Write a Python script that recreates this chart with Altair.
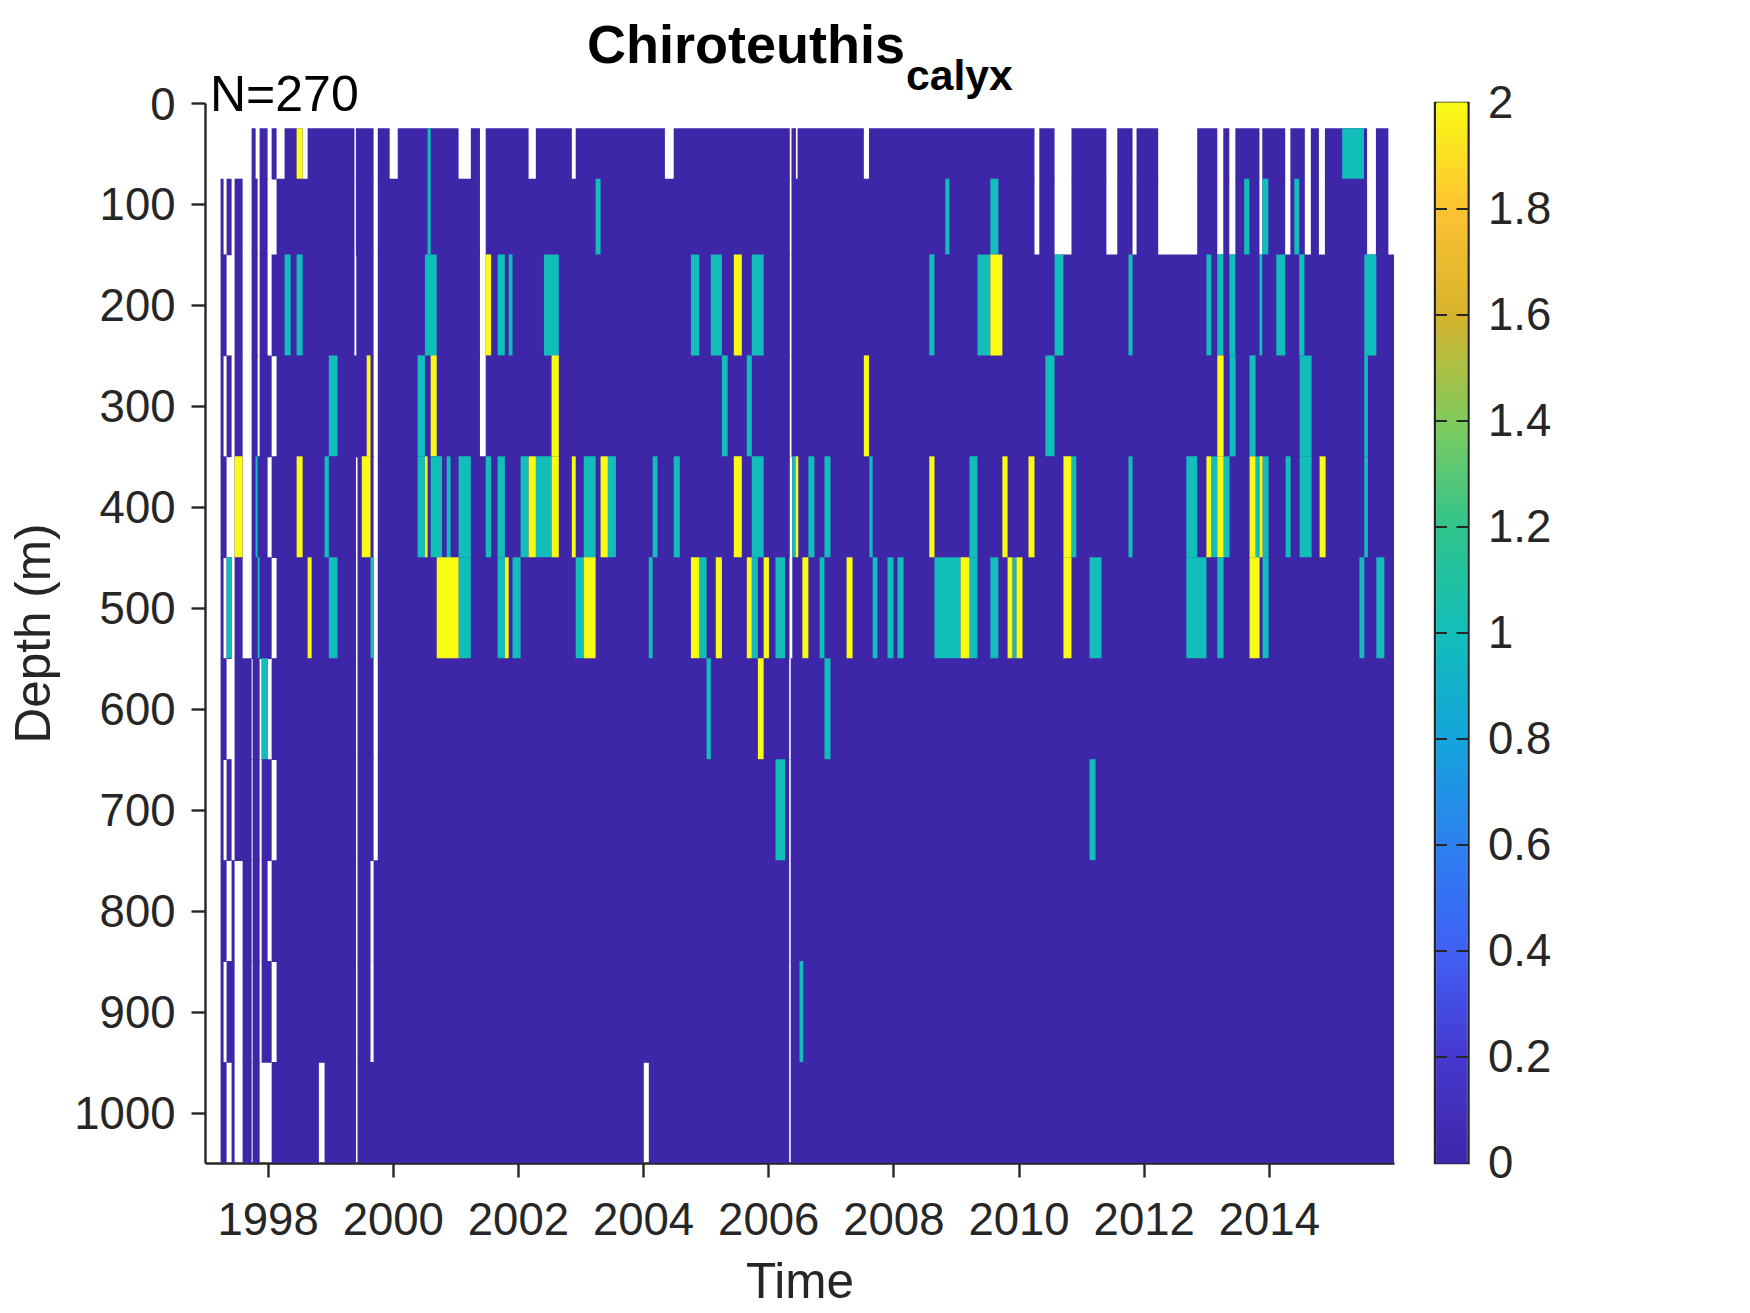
import altair as alt
import numpy as np
import pandas as pd

FONT = "Liberation Sans"
INK = "#262626"

ROW_EDGES = [25, 75, 150, 250, 350, 450, 550, 650, 750, 850, 950, 1050]
YEAR_TICKS = [1998, 2000, 2002, 2004, 2006, 2008, 2010, 2012, 2014]
DEPTH_TICKS = [0, 100, 200, 300, 400, 500, 600, 700, 800, 900, 1000]
CBAR_TICKS = [0, 0.2, 0.4, 0.6, 0.8, 1, 1.2, 1.4, 1.6, 1.8, 2]
CBAR_COLORS = ["#3E26A8", "#4638CE", "#4060F6", "#2D80F0", "#14A4DC", "#12BEB9",
               "#30C48C", "#80CB5C", "#D6B32C", "#FDC232", "#F9FB15"]

GAPS = [
    [(1997,1997.745),(1997.809,1997.873),(1998.0,1998.065),(1998.144,1998.272),(1998.56,1998.64),(1999.388,1999.412),(1999.694,1999.761),(1999.951,2000.08),(2001.052,2001.248),(2001.394,2001.486),(2002.171,2002.287),(2002.862,2002.924),(2004.349,2004.49),(2006.345,2006.372),(2006.443,2006.469),(2007.528,2007.611),(2010.255,2010.332),(2010.576,2010.846),(2011.404,2011.578),(2011.822,2011.886),(2012.232,2012.855),(2013.176,2013.272),(2013.368,2013.465),(2013.85,2013.895),(2014.261,2014.344),(2014.575,2014.671),(2014.8,2014.896),(2015.57,2015.711),(2015.91,2016)],
    [(1997,1997.249),(1997.297,1997.345),(1997.425,1997.473),(1997.601,1997.745),(1997.841,1997.873),(1998.0,1998.144),(1999.388,1999.412),(1999.694,1999.761),(2001.394,2001.486),(2006.345,2006.372),(2010.255,2010.332),(2010.576,2010.846),(2011.404,2011.578),(2011.822,2011.886),(2012.232,2012.855),(2013.176,2013.272),(2013.368,2013.465),(2013.85,2013.895),(2014.261,2014.344),(2014.575,2014.671),(2014.8,2014.896),(2015.57,2015.711),(2015.91,2016)],
    [(1997,1997.249),(1997.345,1997.473),(1997.601,1997.745),(1997.841,1997.873),(1998.0,1998.065),(1999.388,1999.418),(1999.694,1999.761),(2001.394,2001.486),(2006.345,2006.372)],
    [(1997,1997.249),(1997.297,1997.345),(1997.425,1997.473),(1997.601,1997.745),(1997.841,1997.873),(1998.065,1998.144),(1999.694,1999.761),(2001.394,2001.486),(2006.345,2006.372)],
    [(1997,1997.249),(1997.345,1997.473),(1997.601,1997.745),(1998.0,1998.065),(1999.413,1999.437),(1999.694,1999.761),(2006.345,2006.385)],
    [(1997,1997.249),(1997.297,1997.345),(1997.425,1997.473),(1997.601,1997.745),(1998.065,1998.144),(1999.413,1999.437),(1999.694,1999.761),(2006.34,2006.385)],
    [(1997,1997.249),(1997.345,1997.473),(1997.745,1997.761),(1997.873,1997.905),(1998.0,1998.065),(1999.413,1999.437),(1999.694,1999.761),(2006.335,2006.36)],
    [(1997,1997.249),(1997.297,1997.345),(1997.425,1997.473),(1997.745,1997.761),(1997.873,1997.905),(1998.065,1998.144),(1999.413,1999.437),(1999.694,1999.761),(2006.335,2006.36)],
    [(1997,1997.249),(1997.345,1997.425),(1997.473,1997.601),(1997.745,1997.761),(1997.873,1997.905),(1998.0,1998.065),(1999.413,1999.437),(1999.645,1999.694),(2006.335,2006.36)],
    [(1997,1997.249),(1997.297,1997.345),(1997.473,1997.601),(1997.745,1997.761),(1997.873,1997.905),(1998.065,1998.144),(1999.413,1999.437),(1999.645,1999.694),(2006.335,2006.36)],
    [(1997,1997.249),(1997.345,1997.425),(1997.473,1997.601),(1997.745,1997.761),(1997.873,1998.065),(1998.82,1998.911),(1999.413,1999.437),(2004.012,2004.092),(2006.335,2006.36)],
]

ONES = [
    [(2000.557,2000.606),(2015.172,2015.519)],
    [(2000.557,2000.606),(2003.242,2003.321),(2008.83,2008.895),(2009.549,2009.678),(2013.606,2013.689),(2013.895,2013.991),(2014.408,2014.485)],
    [(1998.272,1998.368),(1998.464,1998.56),(2000.514,2000.703),(2001.676,2001.792),(2001.853,2001.914),(2002.416,2002.654),(2004.765,2004.899),(2005.083,2005.26),(2005.737,2005.927),(2008.574,2008.657),(2009.344,2009.549),(2010.576,2010.718),(2011.757,2011.822),(2013.003,2013.08),(2013.176,2013.272),(2013.368,2013.465),(2013.85,2013.895),(2014.119,2014.261),(2014.485,2014.569),(2015.525,2015.718)],
    [(1998.979,1999.119),(2000.398,2000.514),(2005.26,2005.352),(2005.658,2005.737),(2010.429,2010.576),(2013.373,2013.469),(2013.692,2013.788),(2014.492,2014.683),(2015.525,2015.583)],
    [(1997.808,1997.84),(1998.911,1998.979),(2000.398,2000.514),(2000.606,2000.789),(2000.862,2000.924),(2001.052,2001.248),(2001.486,2001.572),(2001.676,2001.792),(2002.043,2002.171),(2002.287,2002.538),(2003.052,2003.242),(2003.437,2003.566),(2004.153,2004.232),(2004.49,2004.587),(2005.737,2005.927),(2006.385,2006.436),(2006.642,2006.738),(2006.899,2006.995),(2007.617,2007.669),(2009.216,2009.344),(2010.846,2010.923),(2011.757,2011.822),(2012.682,2012.855),(2013.08,2013.176),(2013.277,2013.373),(2013.788,2013.852),(2013.9,2013.996),(2014.268,2014.348),(2014.492,2014.683),(2015.525,2015.583)],
    [(1997.345,1997.425),(1997.841,1997.873),(1998.979,1999.119),(1999.645,1999.694),(2001.052,2001.248),(2001.676,2001.792),(2001.914,2002.043),(2002.924,2003.052),(2004.092,2004.153),(2004.899,2005.015),(2005.737,2005.835),(2006.116,2006.269),(2006.822,2006.899),(2007.669,2007.746),(2007.906,2008.003),(2008.067,2008.163),(2008.657,2009.074),(2009.216,2009.344),(2009.549,2009.678),(2009.902,2009.967),(2011.135,2011.327),(2012.682,2013.003),(2013.176,2013.277),(2013.9,2013.996),(2015.448,2015.525),(2015.718,2015.846)],
    [(1997.905,1998.0),(2005.015,2005.083),(2006.899,2006.995)],
    [(2006.116,2006.269),(2011.135,2011.231)],
    [],
    [(2006.5,2006.56)],
    [],
]

TWOS = [
    [(1998.464,1998.56)],
    [],
    [(2001.486,2001.572),(2005.45,2005.578),(2009.549,2009.742)],
    [(1999.584,1999.645),(2000.606,2000.703),(2002.538,2002.654),(2007.528,2007.611),(2013.176,2013.277)],
    [(1997.473,1997.601),(1998.464,1998.56),(1999.505,1999.645),(2000.514,2000.557),(2002.171,2002.287),(2002.538,2002.654),(2002.862,2002.924),(2003.321,2003.437),(2005.45,2005.578),(2006.436,2006.481),(2008.574,2008.657),(2009.742,2009.825),(2010.159,2010.255),(2010.718,2010.846),(2013.003,2013.08),(2013.176,2013.277),(2013.692,2013.788),(2013.852,2013.9),(2014.811,2014.907)],
    [(1998.64,1998.704),(2000.703,2001.052),(2001.792,2001.853),(2003.052,2003.242),(2004.765,2004.899),(2005.162,2005.26),(2005.658,2005.737),(2005.927,2006.012),(2006.546,2006.642),(2007.252,2007.348),(2009.074,2009.216),(2009.825,2009.902),(2009.967,2010.063),(2010.718,2010.846),(2013.692,2013.852)],
    [(2005.835,2005.927)],
    [], [], [], [],
]

base_rows, stripes = [], []
for i in range(len(GAPS)):
    d0, d1 = ROW_EDGES[i], ROW_EDGES[i + 1]
    cur = 1997.0
    # dark cells run a hair into the next row so that no seam shows between rows
    d1_base = min(d1 + 0.8, ROW_EDGES[-1])
    for g0, g1 in GAPS[i] + [(2016.0, 2016.0)]:
        if g0 > cur:
            base_rows.append(dict(t0=cur, t1=g0, d0=d0, d1=d1_base, v=0))
        cur = max(cur, g1)
    for a, b in ONES[i]:
        stripes.append(dict(t0=a, t1=b, d0=d0, d1=d1, v=1))
    for a, b in TWOS[i]:
        stripes.append(dict(t0=a, t1=b, d0=d0, d1=d1, v=2))
df = pd.DataFrame(base_rows + stripes)

color_scale = alt.Scale(domain=CBAR_TICKS, range=CBAR_COLORS, interpolate="rgb")

W, H = 1189, 1060

x_enc = alt.X("t0:Q", scale=alt.Scale(domain=[1997, 2016], nice=False, zero=False),
              axis=alt.Axis(values=YEAR_TICKS, format="d", title="Time", grid=False,
                            tickSize=14, tickWidth=2.4, tickColor=INK, domainColor=INK, domainWidth=2.4,
                            labelFont=FONT, labelFontSize=45.5, labelColor=INK, labelPadding=21,
                            titleFont=FONT, titleFontSize=49.5, titleColor=INK, titleFontWeight="normal",
                            titlePadding=15, labelFlush=False, labelOverlap=False))
y_enc = alt.Y("d0:Q", scale=alt.Scale(domain=[0, 1050], reverse=True, nice=False, zero=False),
              axis=alt.Axis(values=DEPTH_TICKS, format="d", title="Depth (m)", grid=False,
                            tickSize=14, tickWidth=2.4, tickColor=INK, domainColor=INK, domainWidth=2.4,
                            labelFont=FONT, labelFontSize=45.5, labelColor=INK, labelPadding=16,
                            labelOffset=2,
                            titleFont=FONT, titleFontSize=49.5, titleColor=INK, titleFontWeight="normal",
                            titlePadding=14, labelOverlap=False))

heat = alt.Chart(df).mark_rect().encode(
    x=x_enc, x2="t1:Q", y=y_enc, y2="d1:Q",
    color=alt.Color("v:Q", scale=color_scale, legend=None),
)

N_LABEL = pd.DataFrame({"t": [1997.08], "d": [8], "s": ["N=270"]})
n_text = alt.Chart(N_LABEL).mark_text(align="left", baseline="alphabetic", font=FONT, fontSize=50, color="black").encode(
    x=alt.X("t:Q"), y=alt.Y("d:Q"), text="s:N")

title_main = alt.Chart(pd.DataFrame({"s": ["Chiroteuthis"]})).mark_text(
    align="left", baseline="alphabetic", font=FONT, fontSize=54, fontWeight="bold", color="black"
).encode(x=alt.value(382), y=alt.value(-40), text="s:N")
title_sub = alt.Chart(pd.DataFrame({"s": ["calyx"]})).mark_text(
    align="left", baseline="alphabetic", font=FONT, fontSize=42.7, fontWeight="bold", color="black"
).encode(x=alt.value(701), y=alt.value(-13.5), text="s:N")

main = alt.layer(heat, n_text, title_main, title_sub).properties(width=W, height=H)

# colour bar
CB_W = 33.5
edges = np.linspace(0, 2, 257)
bar_df = pd.DataFrame({"a": edges[:-1], "b": edges[1:], "v": (edges[:-1] + edges[1:]) / 2})
cb_y = alt.Y("a:Q", scale=alt.Scale(domain=[0, 2], nice=False, zero=False),
             axis=alt.Axis(orient="right", values=CBAR_TICKS, labelExpr="format(datum.value, '.1~f')",
                           title=None, grid=False, tickSize=0, domain=False,
                           labelFont=FONT, labelFontSize=45.5, labelColor=INK, labelPadding=19,
                           labelOverlap=False))
bar = alt.Chart(bar_df).mark_rect(strokeWidth=1).encode(
    y=cb_y, y2="b:Q", x=alt.value(1.7), x2=alt.value(CB_W - 1.7),
    color=alt.Color("v:Q", scale=color_scale, legend=None),
    stroke=alt.Stroke("v:Q", scale=color_scale, legend=None),
)
tick_df = pd.DataFrame({"a": CBAR_TICKS[1:-1]})
t_l = alt.Chart(tick_df).mark_rule(color=INK, strokeWidth=2).encode(
    y=cb_y, x=alt.value(0), x2=alt.value(12))
t_r = alt.Chart(tick_df).mark_rule(color=INK, strokeWidth=2).encode(
    y=cb_y, x=alt.value(CB_W - 12), x2=alt.value(CB_W))
cbar = alt.layer(bar, t_l, t_r).properties(
    width=CB_W, height=H, view=alt.ViewConfig(stroke=INK, strokeWidth=2.4))

chart = alt.hconcat(main, cbar, spacing=38).resolve_scale(color="independent", stroke="independent").properties(
    padding={"left": 1, "top": 12, "right": 5, "bottom": 5}
).configure_view(strokeWidth=0)

chart.save("out.html", embed_options={"renderer": "svg", "actions": False})
